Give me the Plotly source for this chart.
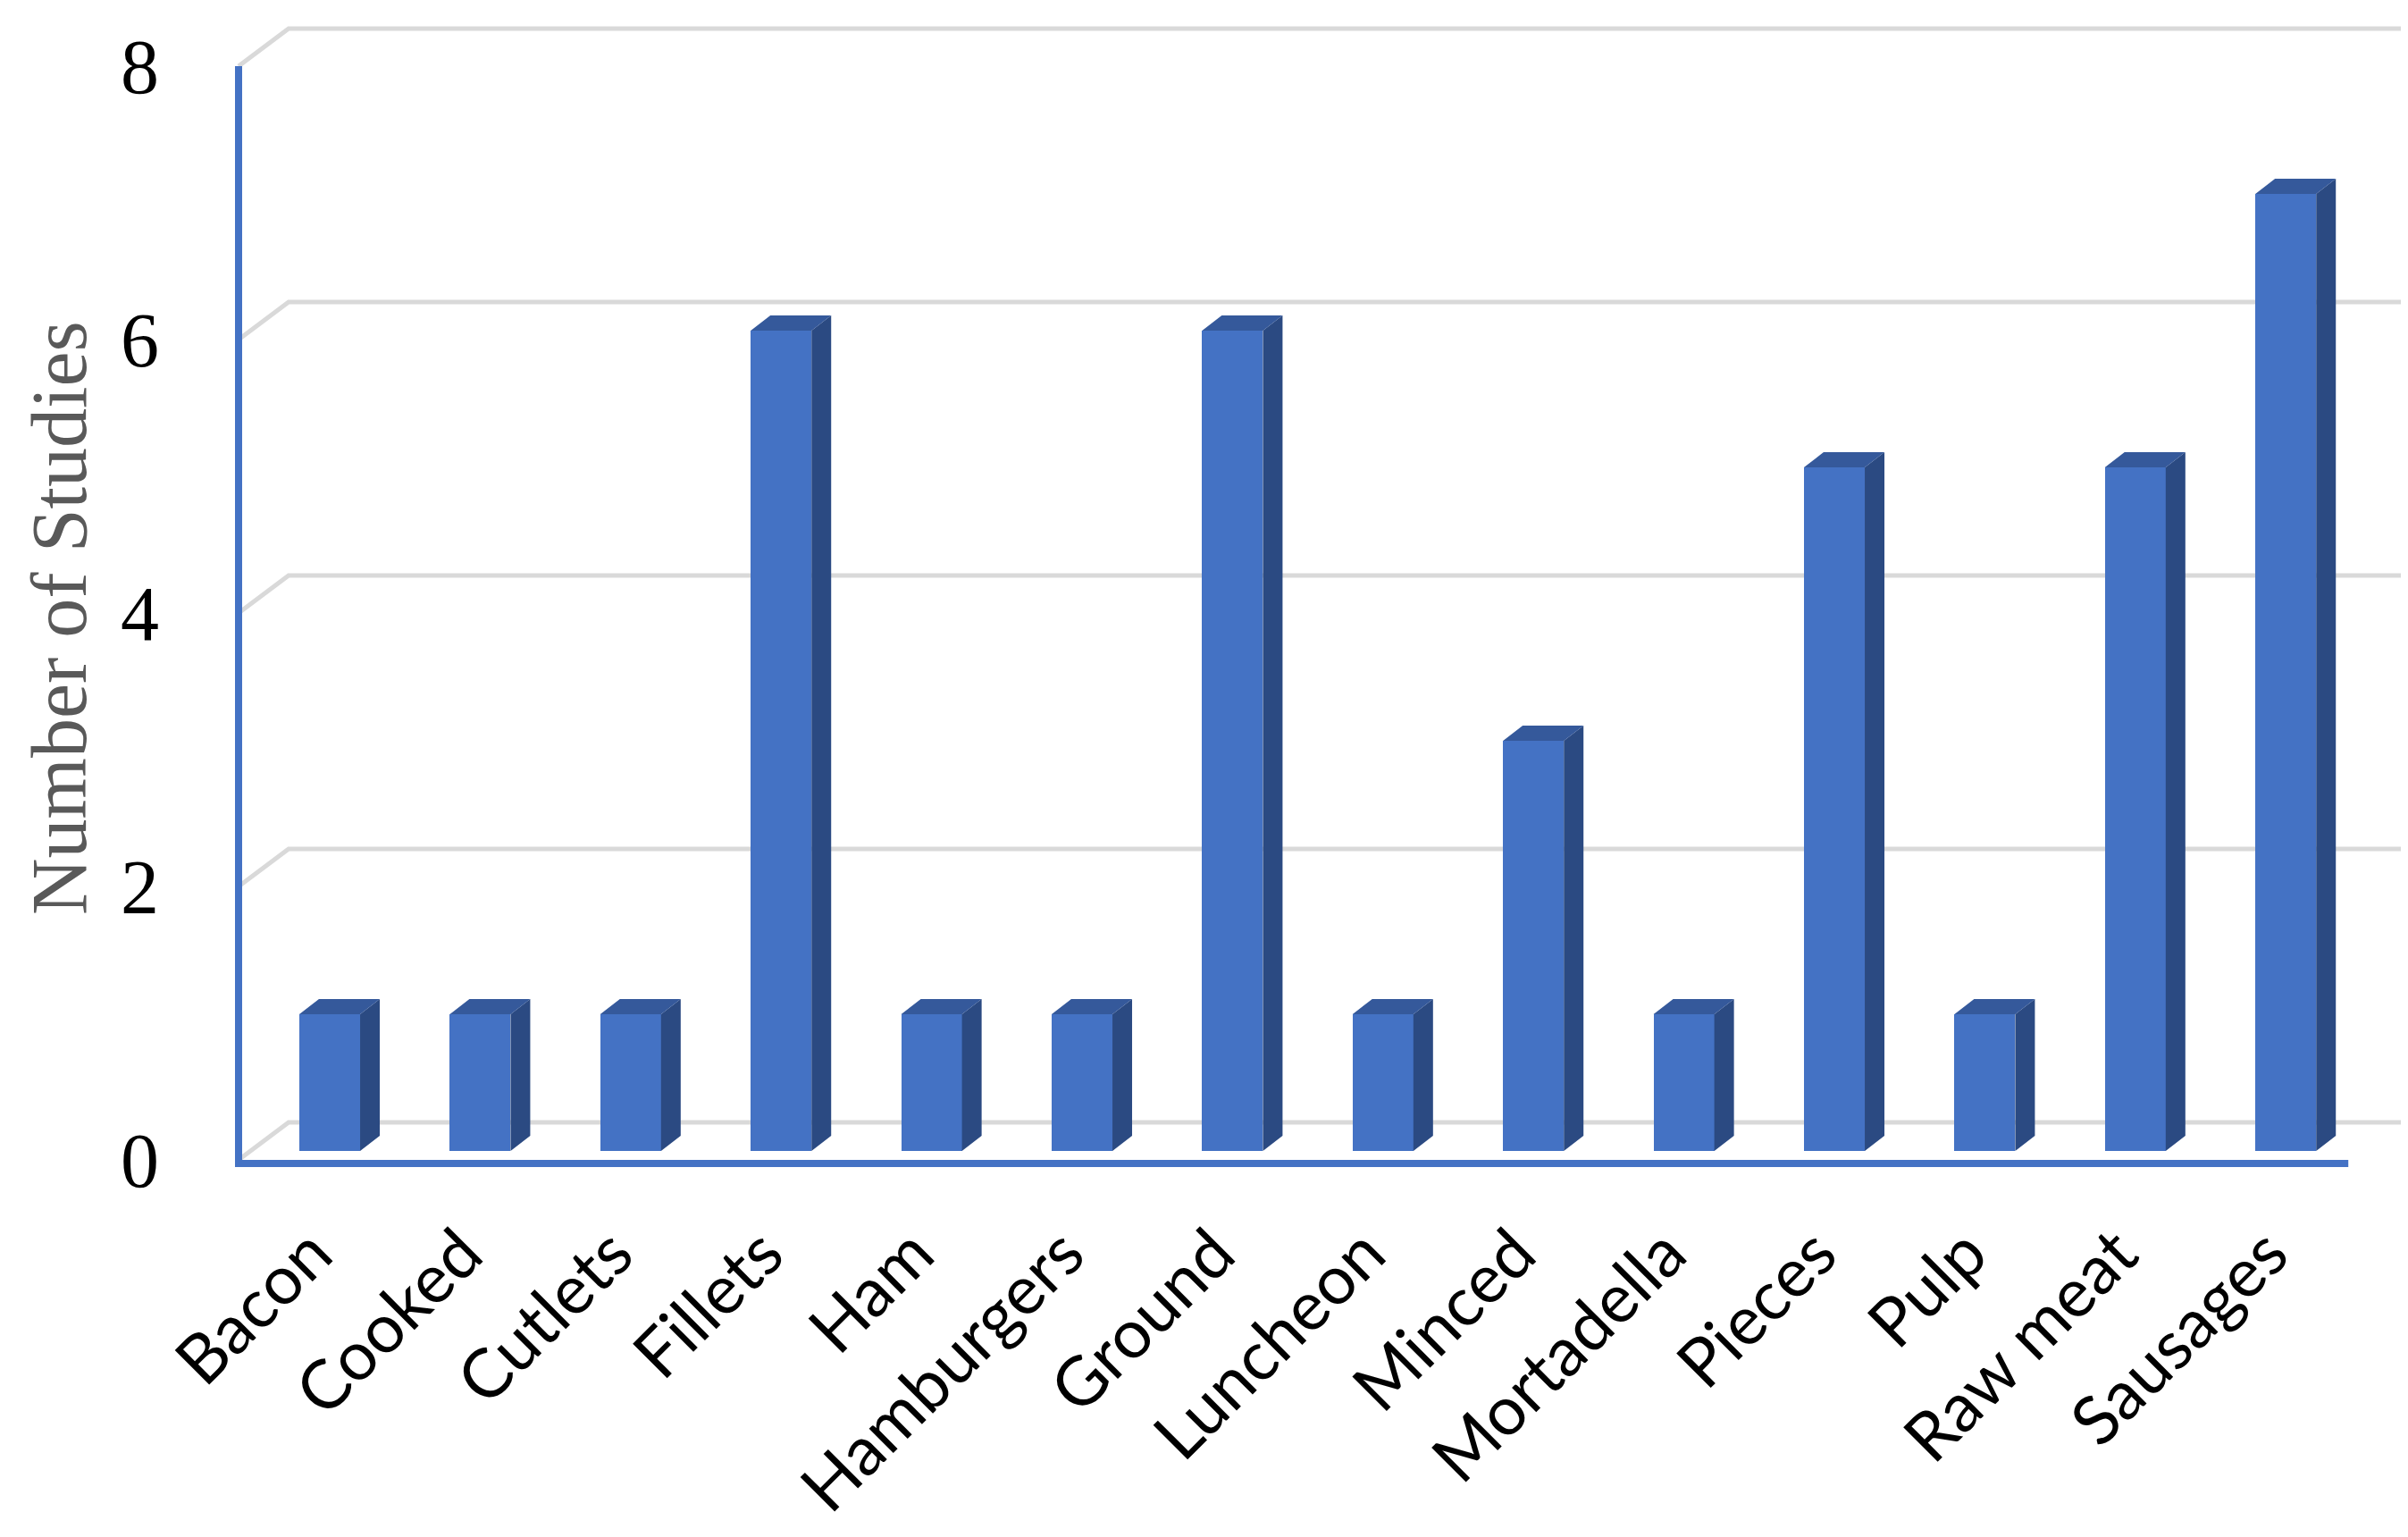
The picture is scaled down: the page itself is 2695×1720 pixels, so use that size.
import plotly.graph_objects as go

categories = ["Bacon", "Cooked", "Cutlets", "Fillets", "Ham", "Hamburgers", "Ground",
              "Luncheon", "Minced", "Mortadella", "Pieces", "Pulp", "Raw meat", "Sausages"]
studies = [1, 1, 1, 6, 1, 1, 6, 1, 3, 1, 5, 1, 5, 7]
y_ticks = [0, 2, 4, 6, 8]

W, H = 2695, 1720
L, R, T, B = 240, 5, 0, 410
PX_X = 168.4          # pixels per category
PX_Y = 153.0          # pixels per unit
X0_PX = 361           # centre of first category
Y0_PX = 1280          # bar face baseline
AXIS_PX = 259         # front vertical axis position

plot_w = W - L - R
plot_h = H - T - B
x_rng = [(L - X0_PX) / PX_X, (W - R - X0_PX) / PX_X]
y_rng = [(Y0_PX - (H - B)) / PX_Y, (Y0_PX - T) / PX_Y]

front_off = -10 / PX_Y      # front plane relative to bar face
back_off = 32 / PX_Y        # back wall relative to bar face
bw = 0.404
dx = 22 / PX_X
dy = 17 / PX_Y

x_front_left = (AXIS_PX - X0_PX) / PX_X
x_back_left = x_front_left + 56 / PX_X
x_back_right = len(categories) - 1 + (2679 - 2550) / PX_X
x_axis_end = len(categories) - 1 + (2620 - 2550) / PX_X

BLUE = "#4472C4"
TOP = "#35599B"
SIDE = "#2B4A82"
GRID = "#D9D9D9"

fig = go.Figure()

# bar front faces
fig.add_trace(go.Bar(x=list(range(len(categories))), y=studies, width=bw,
                     marker=dict(color=BLUE, line=dict(width=0)), hoverinfo="skip",
                     showlegend=False))

# side and top faces
sx, sy, tx, ty = [], [], [], []
for i, v in enumerate(studies):
    xr = i + bw / 2
    xl = i - bw / 2
    sx += [xr, xr, xr + dx, xr + dx, xr, None]
    sy += [0, v, v + dy, dy, 0, None]
    tx += [xl, xr, xr + dx, xl + dx, xl, None]
    ty += [v, v, v + dy, v + dy, v, None]
fig.add_trace(go.Scatter(x=sx, y=sy, mode="lines", fill="toself", fillcolor=SIDE,
                         line=dict(width=0, color=SIDE), hoverinfo="skip", showlegend=False))
fig.add_trace(go.Scatter(x=tx, y=ty, mode="lines", fill="toself", fillcolor=TOP,
                         line=dict(width=0, color=TOP), hoverinfo="skip", showlegend=False))

# front axis lines (front plane, on yaxis2)
corner = -4 / PX_Y
fig.add_trace(go.Scatter(x=[x_front_left, x_front_left, x_axis_end],
                         y=[y_ticks[-1], corner, corner],
                         yaxis="y2", mode="lines", line=dict(color=BLUE, width=8),
                         hoverinfo="skip", showlegend=False))

# back-wall gridlines with floor/side stubs
shapes = []
for v in y_ticks:
    yf = v + front_off
    yb = v + back_off
    shapes.append(dict(type="path", xref="x", yref="y", layer="below",
                       path=f"M {x_front_left},{yf} L {x_back_left},{yb} L {x_back_right},{yb}",
                       line=dict(color=GRID, width=5)))

fig.update_layout(
    template="none",
    width=W, height=H,
    margin=dict(l=L, r=R, t=T, b=B, pad=0, autoexpand=False),
    paper_bgcolor="white", plot_bgcolor="white",
    shapes=shapes,
    bargap=0,
    xaxis=dict(range=x_rng, tickmode="array", tickvals=list(range(len(categories))),
               ticktext=categories, tickangle=-45, showgrid=False, zeroline=False,
               showline=False, ticks="", ticklabelstandoff=24, ticklabelshift=-20,
               automargin=False,
               tickfont=dict(family="Lato", size=76, color="black")),
    yaxis=dict(range=y_rng, showgrid=False, zeroline=False, showline=False,
               showticklabels=False, ticks="", automargin=False),
    yaxis2=dict(range=[y_rng[0] - front_off, y_rng[1] - front_off], overlaying="y",
                side="left", tickmode="array", tickvals=y_ticks,
                ticktext=[str(t) for t in y_ticks], showgrid=False, zeroline=False,
                showline=False, ticks="", ticklabelstandoff=69, automargin=False,
                tickfont=dict(family="Liberation Serif", size=86, color="black")),
    annotations=[dict(text="Number of Studies", xref="paper", yref="paper",
                      x=(58 - L) / plot_w, y=(H - B - 684) / plot_h,
                      xanchor="center", yanchor="middle", textangle=-90, showarrow=False,
                      font=dict(family="Liberation Serif", size=88, color="#595959"))],
)

fig.write_html("out.html")
